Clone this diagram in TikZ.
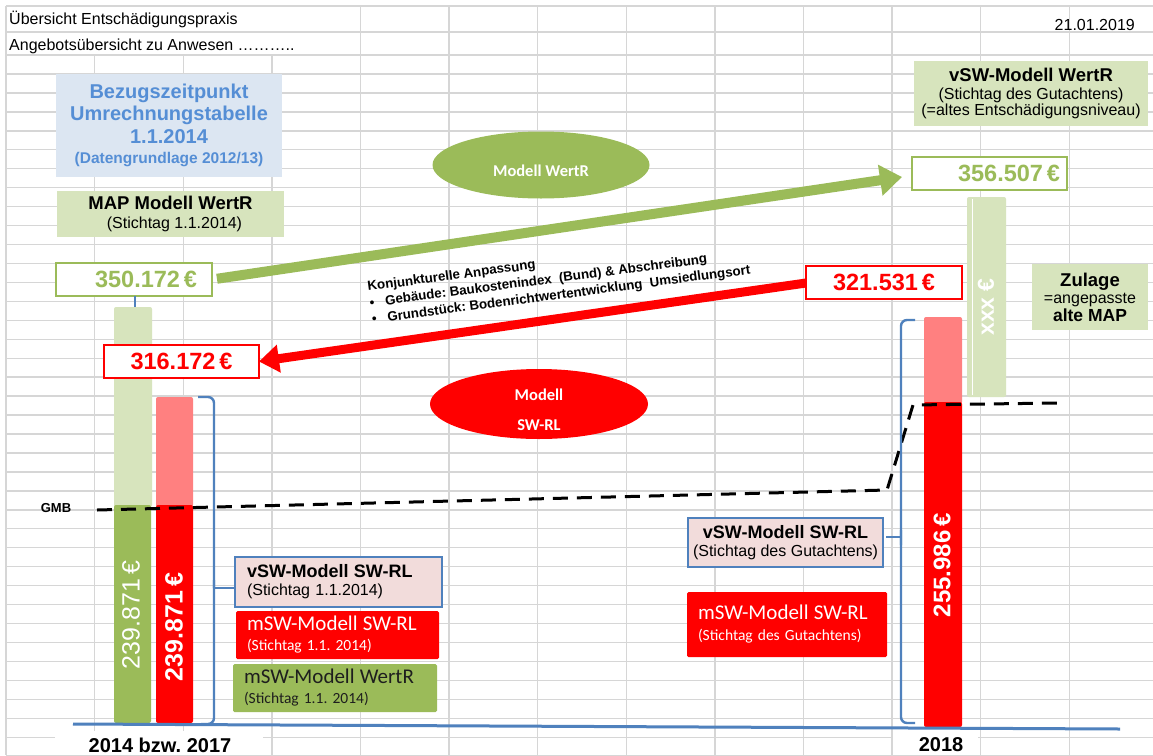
\documentclass[tikz,border=0pt]{standalone}
\usepackage{fontspec}
\setmainfont{Liberation Sans}
\newfontfamily\calib{Carlito}
\usetikzlibrary{shapes.geometric,arrows.meta}
\definecolor{gridc}{RGB}{214,214,214}
\definecolor{wgreen}{RGB}{155,187,89}
\definecolor{lgreen}{RGB}{215,228,189}
\definecolor{lblue}{RGB}{220,230,242}
\definecolor{tblue}{RGB}{85,142,213}
\definecolor{pinkbar}{RGB}{255,128,128}
\definecolor{lpink}{RGB}{242,220,219}
\definecolor{bline}{RGB}{79,129,189}
\definecolor{sred}{RGB}{255,0,0}
\definecolor{dtext}{RGB}{30,30,30}
\newcommand\myfs[2]{\fontsize{#1}{#2}\selectfont}
\frenchspacing
\begin{document}
\begin{tikzpicture}[x=1pt,y=-1pt,
  gridline/.style={draw=gridc, line width=1.4pt},
  boxnw/.style={rectangle, anchor=north west, inner sep=0pt, outer sep=0pt},
  valbox/.style={boxnw, fill=white, line width=1.5pt, font=\bfseries\myfs{23.5}{26}},
  barbox/.style={boxnw, rounded corners=2pt},
  bartext/.style={rotate=90, text=white, inner sep=0pt},
  brace/.style={draw=bline, line width=2.4pt, rounded corners=6pt},
  garrow/.style={draw=wgreen, line width=10pt, -{Triangle[length=22pt,width=30pt]}},
  rarrow/.style={draw=sred, line width=9pt, -{Triangle[length=20pt,width=27pt]}},
  gmbline/.style={draw=black, line width=3pt, dash pattern=on 15pt off 9pt},
  ovalbox/.style={ellipse, inner sep=0pt},
  ovaltext/.style={inner sep=0pt, text=white, align=center, font=\calib\bfseries\myfs{16.5}{30}},
]
\useasboundingbox (0,0) rectangle (1153,755);
\fill[white] (0,0) rectangle (1153,755);
% grid
\foreach \yy in {6,32} \draw[gridline] (6,\yy) -- (1153,\yy);
\foreach \k in {0,...,37} \draw[gridline] (6,{55+18.95*\k}) -- (1153,{55+18.95*\k});
\draw[gridline] (6,6) -- (6,755);
\foreach \k in {1,2,3} \draw[gridline] ({6+88.6*\k},55) -- ({6+88.6*\k},755);
\foreach \k in {4,...,12} \draw[gridline] ({6+88.6*\k},6) -- ({6+88.6*\k},755);
\fill[white] (55,731) rectangle (263,755);
\fill[white] (893,730) rectangle (978,755);
% header
\node[anchor=base west, inner sep=0pt, font=\myfs{16}{19}] (h1) at (9,24) {Übersicht Entschädigungspraxis};
\node[anchor=base west, inner sep=0pt, font=\myfs{16}{19}] (h2) at (9,50) {Angebotsübersicht zu Anwesen ………..};
\node[anchor=base east, inner sep=0pt, font=\myfs{16}{19}] (date) at (1135,30) {21.01.2019};
% title box
\node[boxnw, fill=lblue, minimum width=226pt, minimum height=103pt, align=center, text=tblue, font=\bfseries\myfs{20}{22.5}] (bez) at (56,74)
 {Bezugszeitpunkt\\Umrechnungstabelle\\1.1.2014\\[-2pt]{\myfs{15.5}{18}(Datengrundlage 2012/13)}};
\node[boxnw, fill=lgreen, minimum width=227pt, minimum height=46pt, align=center, font=\myfs{16}{18.5}] (map) at (57,191)
 {{\bfseries\myfs{18.5}{20}MAP Modell WertR}\\\hspace*{8pt}(Stichtag 1.1.2014)};
% right top box
\node[boxnw, fill=lgreen, minimum width=234pt, minimum height=65pt, align=center, font=\myfs{16}{16.5}] (vswwr) at (914,61)
 {{\bfseries\myfs{18.5}{20}vSW-Modell WertR}\\[1pt](Stichtag des Gutachtens)\\(=altes Entschädigungsniveau)};
\node[boxnw, fill=lgreen, minimum width=116pt, minimum height=66pt, align=center, font=\myfs{16}{17.5}] (zul) at (1032,264)
 {{\bfseries\myfs{18.5}{20}Zulage}\\=angepasste\\{\bfseries\myfs{17.5}{18}alte MAP}};
% bars
\node[barbox, fill=lgreen, minimum width=38pt, minimum height=200pt] (lgtop) at (114,307) {};
\node[barbox, fill=wgreen, minimum width=37pt, minimum height=218pt] (lgbot) at (114,505) {};
\node[barbox, fill=pinkbar, minimum width=37pt, minimum height=110pt] (lrtop) at (156,397) {};
\node[barbox, fill=sred, minimum width=37pt, minimum height=218pt] (lrbot) at (156,505) {};
\node[barbox, fill=pinkbar, minimum width=38pt, minimum height=87pt] (rrtop) at (924,317) {};
\node[barbox, fill=sred, minimum width=38pt, minimum height=325pt] (rrbot) at (924,402) {};
\node[barbox, fill=lgreen, minimum width=39pt, minimum height=200pt] (xbar) at (967,197) {};
\draw[white, line width=0.8pt] (972,199) -- (972,395);
\node[bartext, font=\myfs{25}{26}] (t1) at (131,615) {239.871\,€};
\node[bartext, font=\bfseries\myfs{25}{26}] (t2) at (174,627) {239.871\,€};
\node[bartext, font=\bfseries\myfs{24}{26}] (t3) at (942,565) {255.986\,€};
\node[bartext, font=\bfseries\myfs{23}{26}] (t4) at (986,307) {xxx €};
% value boxes
\node[valbox, draw=wgreen, text=wgreen, minimum width=156pt, minimum height=33pt, text width=126pt, align=right] (v350) at (56,263) {350.172\,€};
\node[valbox, draw=wgreen, text=wgreen, minimum width=155pt, minimum height=33pt, text width=141pt, align=right] (v356) at (912,157) {356.507\,€};
\node[valbox, draw=sred, text=sred, minimum width=155pt, minimum height=33pt] (v316) at (104,345) {316.172\,€};
\node[valbox, draw=sred, text=sred, minimum width=156pt, minimum height=33pt] (v321) at (806,266) {321.531\,€};
\draw[draw=bline, line width=2pt] (v350.south -| 135,0) -- (lgtop.north -| 135,0);
% ellipses
\node[ovalbox, fill=wgreen, minimum width=217pt, minimum height=67pt] (ewr) at (541,165) {};
\node[ovaltext] (ewrt) at ([yshift=-6pt]ewr.center) {Modell WertR};
\node[ovalbox, fill=sred, minimum width=218pt, minimum height=70pt] (esw) at (539,404) {};
\node[ovaltext] (eswt) at ([yshift=-6pt]esw.center) {Modell\\SW-RL};
% arrows
\draw[garrow, shorten <=5pt] (v350.east) -- ([xshift=-10pt,yshift=-3.5pt]v356.west);
\draw[rarrow] ([yshift=-0.5pt]v321.west) -- (v316.east);
\node[rotate=7.5, align=left, inner sep=0pt, font=\bfseries\myfs{13.3}{16.5}] (konj) at (559,279)
 {Konjunkturelle Anpassung\\\textbullet\hspace{11pt}Gebäude: Baukostenindex\ \ (Bund)\ \&\ Abschreibung\\\textbullet\hspace{11pt}Grundstück: Bodenrichtwertentwicklung\ \ Umsiedlungsort};
% dashed GMB line
\node[font=\bfseries\myfs{13}{15}, inner sep=0pt] (gmb) at (56,508) {GMB};
\coordinate (g1) at (97,510);
\coordinate (g2) at (887,490);
\coordinate (g3) at (913,405);
\coordinate (g4) at (1058,403);
\draw[gmbline] (g1) -- (g2) -- (g3) -- (g4);
% braces
\draw[brace] (198,397) -| (214,588);
\draw[brace] (214,580) |- (201,724);
\draw[draw=bline, line width=2.4pt] (214,588) -- (234,588);
\draw[brace] (915,320) -| (901,545);
\draw[brace] (901,530) |- (915,723);
\draw[draw=bline, line width=2.4pt] (901,537) -- (886,537);
% baseline
\coordinate (b1) at (73,724);
\coordinate (b2) at (1120,729);
\draw[draw=bline, line width=3pt] (b1) -- (b2);
% legend boxes left
\node[boxnw, fill=lpink, draw=bline, line width=2pt, minimum width=207pt, minimum height=50pt, text width=183pt, align=left, font=\myfs{16}{18}] (vswl) at (235,557)
 {{\bfseries\myfs{18}{19}vSW-Modell SW-RL}\\(Stichtag 1.1.2014)};
\node[boxnw, fill=sred, rounded corners=1.5pt, minimum width=203pt, minimum height=48pt, text width=181pt, align=left, text=white, font=\calib\myfs{15.5}{20}] (mswl) at (236,611)
 {{\myfs{21}{22}mSW-Modell SW-RL}\\(Stichtag 1.1. 2014)};
\node[boxnw, fill=wgreen, rounded corners=1.5pt, minimum width=204pt, minimum height=48pt, text width=182pt, align=left, text=dtext, font=\calib\myfs{15.5}{20}] (mswwr) at (233,664)
 {{\myfs{21}{22}mSW-Modell WertR}\\(Stichtag 1.1. 2014)};
% legend boxes right
\node[boxnw, fill=lpink, draw=bline, line width=2pt, minimum width=195pt, minimum height=49pt, align=center, font=\myfs{16}{18}] (vswr) at (688,518)
 {{\bfseries\myfs{18}{19}vSW-Modell SW-RL}\\(Stichtag des Gutachtens)};
\node[boxnw, fill=sred, rounded corners=1.5pt, minimum width=200pt, minimum height=65pt, text width=178pt, align=left, text=white, font=\calib\myfs{15.5}{21}] (mswr) at (687,592)
 {{\myfs{21}{22}mSW-Modell SW-RL}\\(Stichtag des Gutachtens)};
% bottom labels
\node[font=\bfseries\myfs{20}{22}, inner sep=0pt] (y1) at (160,745) {2014 bzw. 2017};
\node[font=\bfseries\myfs{20}{22}, inner sep=0pt] (y2) at (941,745) {2018};
\end{tikzpicture}
\end{document}
